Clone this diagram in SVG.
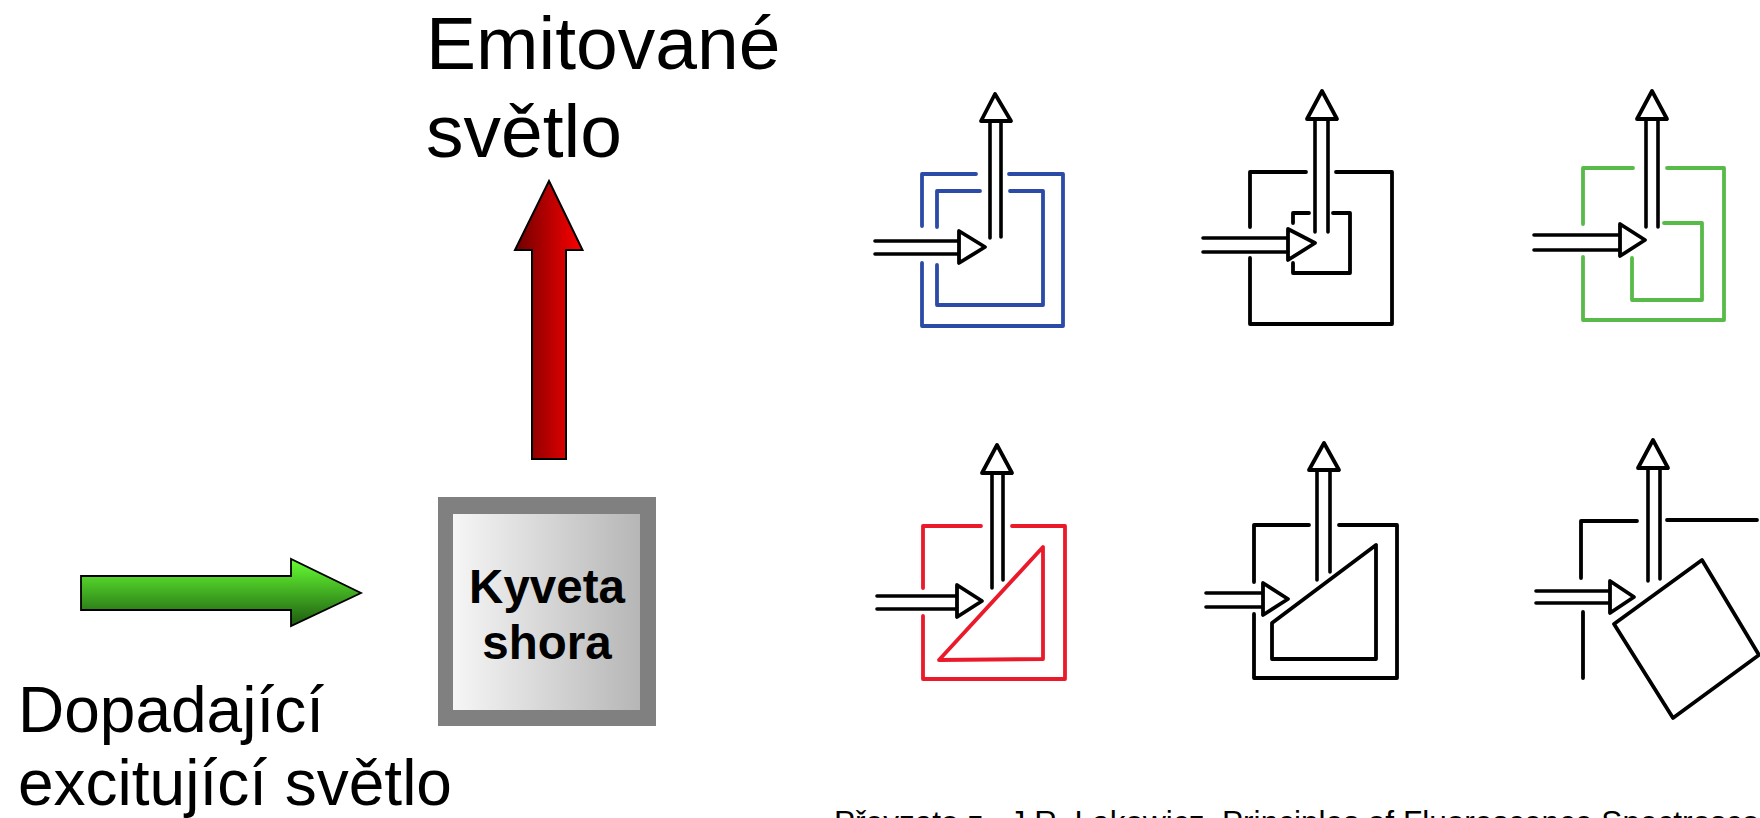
<svg xmlns="http://www.w3.org/2000/svg" width="1760" height="818" viewBox="0 0 1760 818">
<style>
text{font-family:"Liberation Sans",Arial,sans-serif;fill:#000}
.big{font-size:75px}
.mid{font-size:64px}
.box{font-size:47.5px;font-weight:bold;text-anchor:middle}
.cr{font-size:31.6px;white-space:pre}
.s{fill:none;stroke-width:3.8;stroke-linecap:round;stroke-linejoin:round}
.k{stroke:#000}.b{stroke:#2b4ba6}.r{stroke:#ea1a2b}.g{stroke:#58ba48}
.sh{fill:none;stroke:#000;stroke-width:3.6;stroke-linecap:round}
.h{fill:#fff;stroke:#000;stroke-width:3.8;stroke-linejoin:round}
</style>
<defs>
<linearGradient id="gg" x1="0" y1="0" x2="0" y2="1"><stop offset="0" stop-color="#66ff33"/><stop offset="1" stop-color="#1d5a10"/></linearGradient>
<linearGradient id="rg" x1="0" y1="0" x2="1" y2="0"><stop offset="0" stop-color="#6e0000"/><stop offset="1" stop-color="#ff0000"/></linearGradient>
<linearGradient id="bg" x1="0" y1="0" x2="1" y2="0"><stop offset="0" stop-color="#f6f6f6"/><stop offset="1" stop-color="#b6b6b6"/></linearGradient>
</defs>
<rect width="1760" height="818" fill="#fff"/>
<g id="connectors">
<polygon id="excitation-arrow" points="81,576 291,576 291,559 361,593 291,626 291,610 81,610" fill="url(#gg)" stroke="#000" stroke-width="1.8"/>
<polygon id="emission-arrow" points="549,181 582.5,250 566,250 566,459 532,459 532,250 515,250" fill="url(#rg)" stroke="#000" stroke-width="2"/>
</g>
<g id="cuvette">
<rect x="438" y="497" width="218" height="229" fill="#808080"/>
<rect x="453" y="514" width="187" height="196" fill="url(#bg)"/>
<text class="box" x="547" y="603">Kyveta</text>
<text class="box" x="547" y="659">shora</text>
</g>
<g id="label-emitted"><text class="big" x="426" y="69">Emitované</text><text class="big" x="426" y="157">světlo</text></g>
<g id="label-incident"><text class="mid" x="18" y="732">Dopadající</text><text class="mid" x="18" y="805">excitující světlo</text></g>
<g id="credit"><text class="cr" x="834" y="833">Převzato z.  J.R. Lakowicz, Principles of Fluorescence Spectroscopy</text></g>
<g id="geometry-blue">
<path class="s b" d="M922 226V174H976M1009 174H1063V326H922V263M937 227V191H980M1010 191H1043V305H937V265"/>
<path class="sh" d="M990 123V238M1001 123V237M875 241H959M875 254H959"/>
<polygon class="h" points="995,94 1011,121 981,121"/><polygon class="h" points="959,231 985,247 959,263"/>
</g>
<g id="geometry-black-small">
<path class="s k" d="M1250 227V172H1306M1336 172H1392V324H1250V258M1293 223V213H1309M1333 213H1350V273H1293V263"/>
<path class="sh" d="M1315 120V232M1328 120V232M1203 238H1288M1203 252H1288"/>
<polygon class="h" points="1322,91 1337,119 1307,119"/><polygon class="h" points="1288,229 1315,243 1288,260"/>
</g>
<g id="geometry-green">
<path class="s g" d="M1583 224V168H1633M1667 168H1724V320H1583V257M1664 223H1702V300H1632V258"/>
<path class="sh" d="M1646 119V227M1658 119V227M1534 235H1620M1534 250H1620"/>
<polygon class="h" points="1652,91 1667,119 1637,119"/><polygon class="h" points="1620,224 1645,240 1620,256"/>
</g>
<g id="geometry-red">
<path class="s r" d="M923 588V526H981M1012 526H1065V679H923V616M1043 547V659L939 660Z"/>
<path class="sh" d="M992 473V588M1003 473V580M877 596H957M877 609H957"/>
<polygon class="h" points="997,445 1012,473 982,473"/><polygon class="h" points="957,585 982,601 957,617"/>
</g>
<g id="geometry-black-wedge">
<path class="s k" d="M1254 582V525H1309M1339 525H1397V678H1254V614M1376 545V659H1272V623Z"/>
<path class="sh" d="M1317 470V580M1330 470V572M1206 593H1263M1206 607H1263"/>
<polygon class="h" points="1324,443 1339,470 1309,470"/><polygon class="h" points="1263,583 1288,599 1263,615"/>
</g>
<g id="geometry-black-tilted">
<path class="s k" d="M1581 578V521H1637M1667 520H1757M1583 612V678M1702 560L1759 655L1673 718L1614 624Z"/>
<path class="sh" d="M1648 468V581M1660 468V579M1536 591H1610M1536 603H1610"/>
<polygon class="h" points="1653,440 1668,468 1638,468"/><polygon class="h" points="1610,581 1634,597 1610,613"/>
</g>
</svg>
